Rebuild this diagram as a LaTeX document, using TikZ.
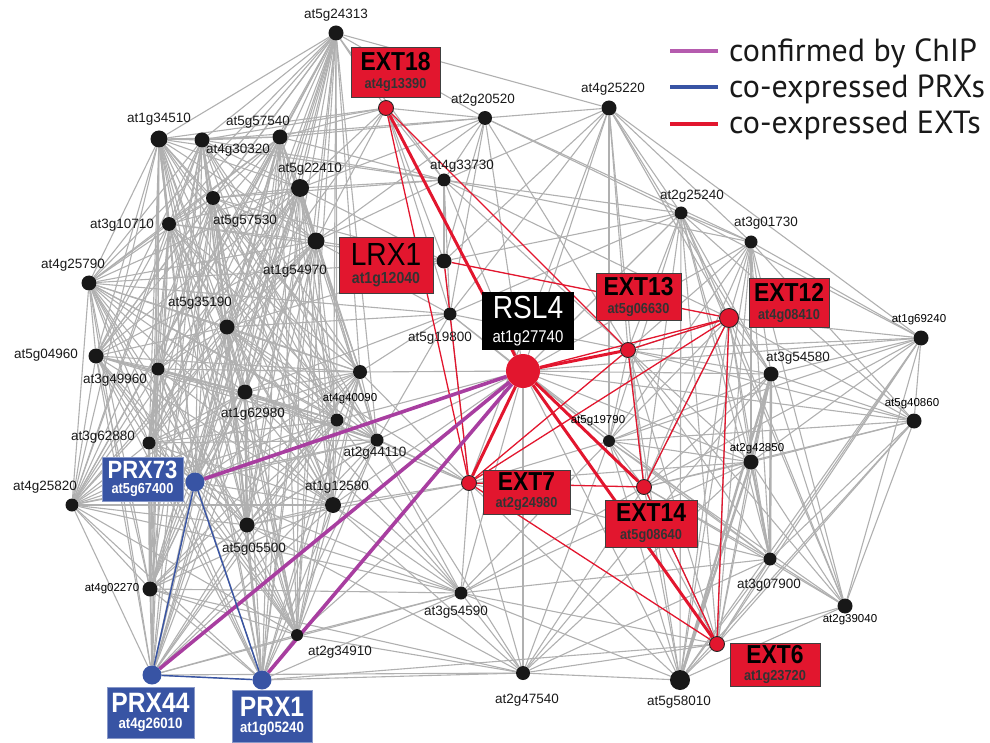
\documentclass[tikz,border=0pt]{standalone}
\usepackage{fontspec}
\usepackage{tikz}
\usetikzlibrary{backgrounds}
\setmainfont{Liberation Sans}
\newfontfamily\legendfont{PT Sans}
\newfontfamily\boxfont[FakeStretch=0.88]{Liberation Sans}

\definecolor{extred}{RGB}{226,22,46}
\definecolor{prxblue}{RGB}{56,84,164}
\definecolor{chippurple}{RGB}{168,62,160}
\definecolor{edgegray}{RGB}{176,176,176}
\definecolor{dotblack}{RGB}{24,24,24}

% title size, sub size, extra gap, title, sub
\newcommand{\genetext}[5]{\fontsize{#1}{#1}\selectfont #4\\[#3]\fontsize{#2}{#2}\selectfont #5}

\def\leftset{g24313,g34510,g30320,g57540,g22410,g57530,g10710,g54970,g25790,g35190,g04960,g49960,g62980,u1,g40090,g44110,g62880,g25820,g05500,g02270,g12580,g34910,PRX73,PRX44,PRX1}
\def\rightset{g25240,g01730,g69240,g54580,g40860,g42850,g07900,g39040,EXT12,EXT6,g58010,g19790,EXT14,EXT13}

\begin{document}
\begin{tikzpicture}
  [x=1pt,y=-1pt,
   edge/.style={edgegray,line width=1.1pt},
   hvy/.style={edgegray,line width=2.4pt},
   redge/.style={extred,line width=1.3pt},
   rthick/.style={extred,line width=3pt},
   chip/.style={chippurple,line width=3.6pt},
   prx/.style={prxblue,line width=1.4pt},
   dot/.style={circle,fill=dotblack,inner sep=0pt},
   ext/.style={circle,fill=extred,draw=black!85,line width=0.9pt,inner sep=0pt,minimum size=15pt},
   prxdot/.style={circle,fill=prxblue,inner sep=0pt,minimum size=19pt},
   lbl/.style={font=\fontsize{13.5}{13.5}\selectfont,inner sep=0pt,text=black!90},
   slbl/.style={font=\fontsize{11.5}{11.5}\selectfont,inner sep=0pt,text=black},
   redbox/.style={rectangle,fill=extred,draw=black!75,line width=0.8pt,inner sep=0pt,
     align=center,font=\boxfont\bfseries},
   bluebox/.style={rectangle,fill=prxblue,draw=prxblue!60!white,line width=0.8pt,inner sep=0pt,
     align=center,text=white,font=\boxfont\bfseries},
   blackbox/.style={rectangle,fill=black,inner sep=0pt,align=center,text=white,font=\boxfont},
   legend/.style={font=\legendfont\fontsize{32}{32}\selectfont,inner sep=0pt,text=black!90}]

  \useasboundingbox (0,0) rectangle (990,743);

  % gene dots with their labels
  \foreach \n/\x/\y/\s/\lx/\ly/\t in {
      g24313/336/33/15/336/15/at5g24313,
      g34510/159/139/17/159/119/at1g34510,
      g30320/202/140/15/238/150/at4g30320,
      g57540/280/137/15/258/122/at5g57540,
      g22410/300/188/18/310/169/at5g22410,
      g57530/213/198/14/245/221/at5g57530,
      g10710/169/224/14/122/225/at3g10710,
      g54970/316/241/17/295/271/at1g54970,
      g25790/89/283/15/73/265/at4g25790,
      g35190/227/327/15/200/303/at5g35190,
      g04960/96/356/15/46/355/at5g04960,
      g49960/158/369/13/115/380/at3g49960,
      g62980/245/392/15/253/414/at1g62980,
      g44110/377/440/13/375/453/at2g44110,
      g62880/149/443/13/103/437/at3g62880,
      g25820/72/505/13/45/487/at4g25820,
      g05500/247/525/15/254/549/at5g05500,
      g12580/333/505/16/337/487/at1g12580,
      g34910/297/635/12/340/652/at2g34910,
      g20520/485/118/14/483/100/at2g20520,
      g25220/609/108/15/613/89/at4g25220,
      g33730/444/180/13/462/166/at4g33730,
      g19800/450/314/13/440/338/at5g19800,
      g54590/461/593/13/456/612/at3g54590,
      g47540/523/673/14/527/700/at2g47540,
      g58010/680/680/20/679/702/at5g58010,
      g25240/681/213/13/692/196/at2g25240,
      g01730/751/242/13/766/223/at3g01730,
      g54580/771/374/15/798/358/at3g54580,
      g07900/770/559/13/769/585/at3g07900}
  {
    \node[dot,minimum size=\s pt] (\n) at (\x,\y) {};
    \node[lbl] (\n-t) at (\lx,\ly) {\t};
  }
  \foreach \n/\x/\y/\s/\lx/\ly/\t in {
      g40090/337/420/13/350/399/at4g40090,
      g02270/150/589/15/112/589/at4g02270,
      g19790/609/441/12/598/421/at5g19790,
      g69240/921/338/15/919/320/at1g69240,
      g40860/914/421/15/912/404/at5g40860,
      g42850/751/462/15/757/449/at2g42850,
      g39040/845/606/15/850/620/at2g39040}
  {
    \node[dot,minimum size=\s pt] (\n) at (\x,\y) {};
    \node[slbl] (\n-t) at (\lx,\ly) {\t};
  }
  \node[dot,minimum size=14pt] (u1) at (360,372) {};
  \node[dot,minimum size=15pt] (LRX1) at (444,261) {};

  % RSL4 and its targets
  \node[circle,fill=extred,inner sep=0pt,minimum size=34pt] (RSL4) at (523,371) {};
  \node[ext] (EXT18) at (386,108) {};
  \node[ext] (EXT13) at (628,350) {};
  \node[ext,minimum height=19pt] (EXT12) at (729,318) {};
  \node[ext] (EXT7) at (469,483) {};
  \node[ext] (EXT14) at (644,487) {};
  \node[ext] (EXT6) at (717,644) {};
  \node[prxdot] (PRX73) at (195,482) {};
  \node[prxdot] (PRX44) at (152,675) {};
  \node[prxdot] (PRX1) at (262,680) {};

  \begin{scope}[on background layer]
    % gray co-expression edges
    \foreach \a [count=\i] in \leftset {
      \foreach \b [count=\j] in \leftset {
        \ifnum\j>\i \draw[edge] (\a) -- (\b); \fi
      }
    }
    \foreach \a [count=\i] in \rightset {
      \foreach \b [count=\j] in \rightset {
        \ifnum\j>\i \draw[edge] (\a) -- (\b); \fi
      }
    }
    \foreach \s/\nb in {
        g24313/{EXT18,g20520,g25220,g33730},
        EXT18/{g57540,g22410,g30320,g34510,g54970,g33730,g19800,g20520,g35190,LRX1},
        g20520/{g33730,LRX1,g19800,RSL4,g25220,g25240,g01730,EXT13,g57540,g22410,g30320,g54970},
        g25220/{g33730,LRX1,g19800,RSL4,EXT13,g25240,g01730,EXT12,g54580,g19790,EXT14,g69240,EXT7},
        g33730/{g25240,g01730,EXT13,g19800,RSL4,g22410,g54970,g57540,g30320,g34510,g57530,EXT12,LRX1},
        LRX1/{g54970,g22410,g57530,g35190,g19800,g25240,g10710,g25790},
        g19800/{RSL4,g54970,g35190,g62980,g44110,EXT7,g25240,EXT13,g19790,g25790,u1},
        RSL4/{g25240,g01730,g19790,g54590,g47540,g42850,g07900,g58010,g54580,g69240,g40860,g44110,g40090,g12580,u1},
        g19790/{EXT7,g54590,g47540},
        EXT7/{g54590,g47540,g44110,g12580,g05500,g34910,g62980,g40090,u1,g58010,g42850,g07900,g35190},
        EXT14/{g47540,g54590},
        g54590/{PRX1,PRX44,PRX73,g34910,g05500,g12580,g02270,g62980,g47540,g42850,g07900,EXT6,g58010,g44110,g40090,g35190,g25820},
        g47540/{PRX1,PRX44,g34910,g12580,g44110,g58010,EXT6,g07900,g42850,g54580,g05500,g02270},
        PRX1/{EXT6}}
    {
      \foreach \t in \nb { \draw[edge] (\s) -- (\t); }
    }
    \foreach \a/\b in {g54580/g42850,g54580/g07900,g54580/g58010,g42850/g07900,g42850/g58010,
        g01730/g42850,g49960/g62880,g62880/g02270,g62980/g05500,g34510/g10710,g22410/g54970}
      \draw[hvy] (\a) -- (\b);

    % co-expressed EXTs
    \foreach \a/\b in {EXT18/EXT7,EXT18/EXT13,LRX1/EXT7,LRX1/EXT12,EXT13/EXT12,EXT13/EXT14,
        EXT13/EXT7,EXT12/EXT7,EXT12/EXT14,EXT12/EXT6,EXT7/EXT14,EXT7/EXT6,EXT14/EXT6,RSL4/EXT12}
      \draw[redge] (\a) -- (\b);
    \foreach \a/\b in {RSL4/EXT18,RSL4/EXT13,RSL4/EXT14,RSL4/EXT6,RSL4/EXT7}
      \draw[rthick] (\a) -- (\b);

    % confirmed by ChIP
    \foreach \b in {PRX73,PRX44,PRX1}
      \draw[chip] (RSL4) -- (\b);

    % co-expressed PRXs
    \draw[prx] (PRX73) -- (PRX44);
    \draw[prx] (PRX73) -- (PRX1);
    \draw[prx] (PRX44) -- (PRX1);
  \end{scope}

  % gene boxes
  \node[redbox,minimum width=89pt,minimum height=50pt] (EXT18b) at (395.5,72)
    {\genetext{26}{14.5}{6pt}{EXT18}{\color{black!80}at4g13390}};
  \node[redbox,font=\boxfont,minimum width=94pt,minimum height=56pt] (LRX1b) at (386,265)
    {\genetext{32}{16}{6pt}{LRX1}{\bfseries\color{black!80}at1g12040}};
  \node[blackbox,minimum width=92pt,minimum height=58pt] (RSL4b) at (528,321)
    {\genetext{32}{17}{11pt}{RSL4}{at1g27740}};
  \node[redbox,minimum width=85pt,minimum height=47pt] (EXT13b) at (638.5,296.5)
    {\genetext{26}{14.5}{6pt}{EXT13}{\color{black!80}at5g06630}};
  \node[redbox,minimum width=80pt,minimum height=49pt] (EXT12b) at (789,302.5)
    {\genetext{26}{14.5}{6pt}{EXT12}{\color{black!80}at4g08410}};
  \node[redbox,minimum width=87pt,minimum height=44pt] (EXT7b) at (526.5,492)
    {\genetext{26}{14.5}{5pt}{EXT7}{\color{black!80}at2g24980}};
  \node[redbox,minimum width=92pt,minimum height=47pt] (EXT14b) at (651,523.5)
    {\genetext{26}{14.5}{6pt}{EXT14}{\color{black!80}at5g08640}};
  \node[redbox,minimum width=90pt,minimum height=43pt] (EXT6b) at (775,664.5)
    {\genetext{26}{14.5}{5pt}{EXT6}{\color{black!80}at1g23720}};
  \node[bluebox,minimum width=81pt,minimum height=44pt] (PRX73b) at (142.5,479)
    {\genetext{25}{14.5}{3pt}{PRX73}{at5g67400}};
  \node[bluebox,minimum width=87pt,minimum height=51pt] (PRX44b) at (150.5,712.5)
    {\genetext{28}{15}{4pt}{PRX44}{at4g26010}};
  \node[bluebox,minimum width=80pt,minimum height=52pt] (PRX1b) at (272,716)
    {\genetext{28}{15}{4pt}{PRX1}{at1g05240}};

  % legend
  \coordinate (chipA) at (670,51);
  \coordinate (chipB) at (718,51);
  \coordinate (prxA) at (670,87);
  \coordinate (prxB) at (718,87);
  \coordinate (extA) at (670,124);
  \coordinate (extB) at (718,124);
  \draw[chippurple!85!white,line width=4pt] (chipA) -- (chipB);
  \draw[prxblue,line width=4pt] (prxA) -- (prxB);
  \draw[extred,line width=4pt] (extA) -- (extB);
  \node[legend,anchor=base west] (chipT) at (729,62) {confirmed by ChIP};
  \node[legend,anchor=base west] (prxT) at (729,98) {co-expressed PRXs};
  \node[legend,anchor=base west] (extT) at (729,134) {co-expressed EXTs};
\end{tikzpicture}
\end{document}
